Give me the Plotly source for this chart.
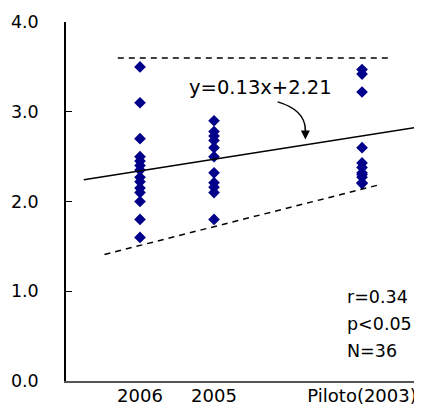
import plotly.graph_objects as go

# ---- data ----
categories = ["2006", "2005", "Piloto(2003)"]
cat_x = [1, 2, 4]
vals_2006 = [3.5, 3.1, 2.7, 2.5, 2.45, 2.4, 2.35, 2.27, 2.22, 2.15, 2.1, 2.0, 1.8, 1.6]
vals_2005 = [2.9, 2.78, 2.73, 2.68, 2.6, 2.5, 2.32, 2.21, 2.16, 2.1, 1.8]
vals_piloto = [3.47, 3.42, 3.22, 2.6, 2.43, 2.38, 2.32, 2.3, 2.27, 2.21, 2.2]
reg_slope = 0.13
reg_intercept = 2.21
reg_x = [0.24, 4.81]
upper_x = [0.70, 4.38]
upper_y = [3.6, 3.6]
lower_x = [0.52, 4.25]
lower_y = [1.41, 2.19]
y_ticks = [0, 1, 2, 3, 4]
y_ticktext = ["0.0", "1.0", "2.0", "3.0", "4.0"]
stats_text = ["r=0.34", "p&lt;0.05", "N=36"]
eq_text = "y=0.13x+2.21"

FONT = "DejaVu Sans, Liberation Sans, Arial"
NAVY = "#00008B"

fig = go.Figure()

groups = [vals_2006, vals_2005, vals_piloto]
for cx, vals in zip(cat_x, groups):
    fig.add_trace(go.Scatter(
        x=[cx] * len(vals), y=vals, mode="markers",
        marker=dict(symbol="diamond", size=9, color=NAVY, line=dict(width=0)),
        showlegend=False, hoverinfo="y"))

# regression line
fig.add_trace(go.Scatter(
    x=reg_x, y=[reg_slope * v + reg_intercept for v in reg_x], mode="lines",
    line=dict(color="black", width=1.5), showlegend=False, hoverinfo="skip"))
# upper dashed
fig.add_trace(go.Scatter(
    x=upper_x, y=upper_y, mode="lines",
    line=dict(color="black", width=1.5, dash="6px,5px"), showlegend=False, hoverinfo="skip"))
# lower dashed
fig.add_trace(go.Scatter(
    x=lower_x, y=lower_y, mode="lines",
    line=dict(color="black", width=1.5, dash="6px,5px"), showlegend=False, hoverinfo="skip"))

# curved arrow
x0, y0 = 2.86, 3.11
xc, yc = 3.23, 3.02
x1, y1 = 3.234, 2.80
fig.add_shape(type="path", xref="x", yref="y",
              path=f"M {x0},{y0} Q {xc},{yc} {x1},{y1}",
              line=dict(color="black", width=1.5))
fig.add_annotation(x=3.234, y=2.69, xref="x", yref="y", ax=0, ay=-12,
                   showarrow=True, arrowhead=2, arrowsize=1.2, arrowwidth=1.5,
                   arrowcolor="black", text="")

fig.add_annotation(x=1.63, y=3.27, xref="x", yref="y", text=eq_text,
                   showarrow=False, xanchor="left", yanchor="middle",
                   font=dict(family=FONT, size=19.5, color="black"))

for i, t in enumerate(stats_text):
    fig.add_annotation(x=3.77, y=0.935 - i * 0.301, xref="x", yref="y", text=t,
                       showarrow=False, xanchor="left", yanchor="middle",
                       font=dict(family=FONT, size=17.5, color="black"))

# page body has an 8px margin: size/margins compensate so the plot sits as in the reference
fig.update_layout(
    width=414, height=397,
    margin=dict(l=58, r=0, t=14, b=24),
    plot_bgcolor="white", paper_bgcolor="white",
    font=dict(family=FONT, size=16, color="black"),
    xaxis=dict(range=[0, 4.81], tickvals=cat_x, ticktext=categories,
               showgrid=False, zeroline=False, showline=True, automargin=False,
               linecolor="#555555", linewidth=2, ticks="",
               tickfont=dict(size=18), ticklabelstandoff=-3),
    yaxis=dict(range=[0, 4.0], tickvals=y_ticks, ticktext=y_ticktext,
               showgrid=False, zeroline=False, showline=True, automargin=False,
               linecolor="black", linewidth=1.5, ticks="inside", ticklen=6,
               tickcolor="black", tickfont=dict(size=17.5), ticklabelstandoff=22),
)

fig.write_html("out.html")
